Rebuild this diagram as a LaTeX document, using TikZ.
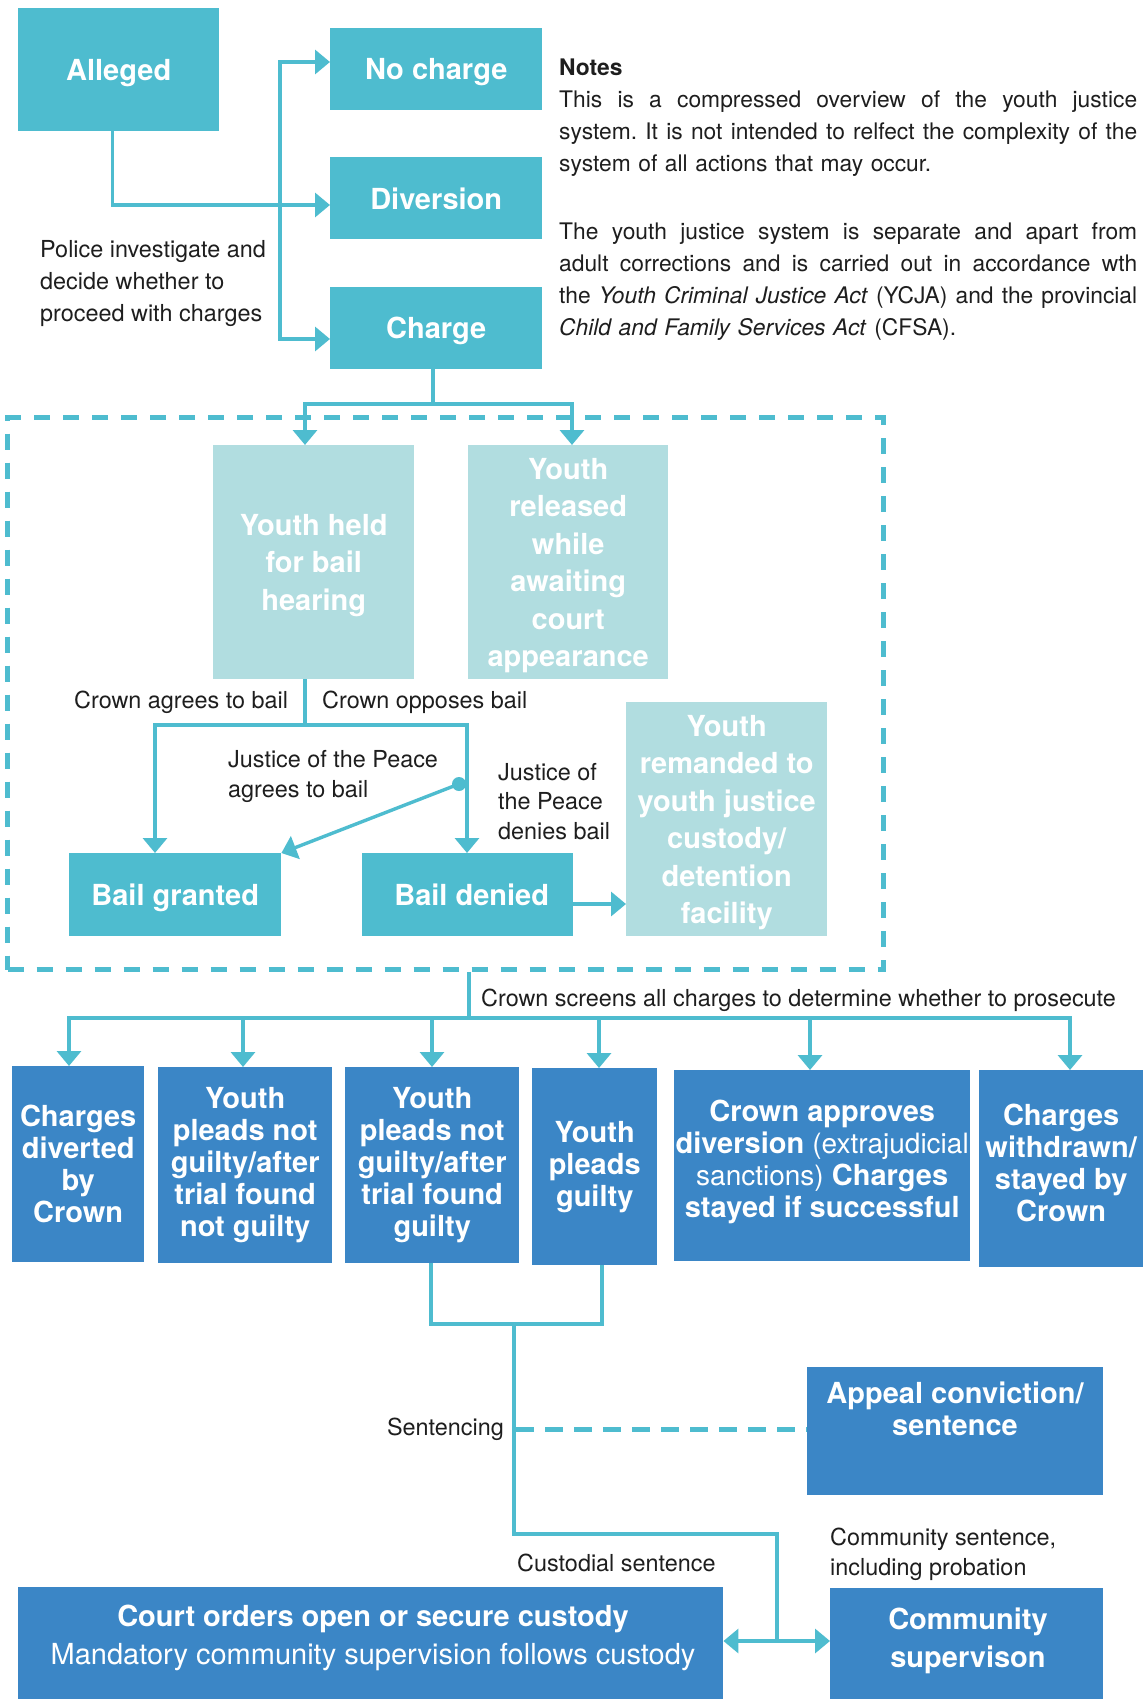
\documentclass[tikz,border=0pt]{standalone}
\usepackage{fontspec}
\setmainfont{TeX Gyre Heros}
\usetikzlibrary{arrows.meta}
\definecolor{jteal}{HTML}{4EBCCF}
\definecolor{jlight}{HTML}{B1DDE0}
\definecolor{jblue}{HTML}{3B86C6}
\definecolor{jline}{HTML}{4EBCCF}
\definecolor{jtext}{HTML}{1E1E1E}
% one justified line of the notes column (stretchable word spaces restored)
\newcommand{\spreadline}[1]{\makebox[578pt][s]{\spaceskip=0pt\xspaceskip=0pt #1}}
\frenchspacing
\begin{document}
\begin{tikzpicture}[x=1pt,y=-1pt,
  flow/.style={draw=jline, line width=3.4pt},
  arr/.style={flow, -{Triangle[length=15pt,width=24pt]}},
  twoarr/.style={flow, {Triangle[length=15pt,width=24pt]}-{Triangle[length=15pt,width=24pt]}},
  zonebox/.style={draw=jline, line width=5pt, dash pattern=on 16pt off 13pt},
  sentdash/.style={draw=jline, line width=5pt, dash pattern=on 18pt off 11pt},
  basebox/.style={inner sep=0pt, text=white, align=center, anchor=north west},
  tealbox/.style={basebox, fill=jteal, text depth=0pt, font=\bfseries\fontsize{29}{33}\selectfont},
  palebox/.style={basebox, fill=jlight, text depth=0pt, font=\bfseries\fontsize{29}{37.5}\selectfont},
  bluebox/.style={basebox, fill=jblue, font=\bfseries\fontsize{29}{32}\selectfont},
  bluetext/.style={inner sep=0pt, text=white, align=center},
  lbl/.style={inner sep=0pt, text=jtext, align=left, font=\fontsize{23.4}{32}\selectfont},
  slbl/.style={lbl, font=\fontsize{23.4}{29.5}\selectfont},
  notestext/.style={lbl, font=\fontsize{22.8}{32}\selectfont},
]
\fill[white] (0,0) rectangle (1143,1699);
\useasboundingbox (0,0) rectangle (1143,1699);

% ---------- police stage ----------
\node[tealbox, minimum width=201pt, minimum height=123pt] (alleged) at (18,8) {Alleged};
\node[tealbox, minimum width=212pt, minimum height=82pt] (nocharge) at (330,28) {No charge};
\node[tealbox, minimum width=212pt, minimum height=82pt] (diversion) at (330,157) {Diversion};
\node[tealbox, minimum width=212pt, minimum height=82pt] (charge) at (330,287) {Charge};

% multi-line labels are anchored on their last baseline
\node[lbl, anchor=base west] (police) at (40,321) {Police investigate and\\decide whether to\\proceed with charges};

\coordinate (ftop) at (280,62);
\coordinate (fmid) at (280,205);
\coordinate (fbot) at (280,339);
\draw[arr] ([xshift=-6.5pt]alleged.south) |- (diversion.west |- fmid);
\draw[flow] (fbot) -- (ftop);
\draw[arr] ([xshift=-1.7pt]ftop) -- (ftop -| nocharge.west);
\draw[arr] ([xshift=-1.7pt]fbot) -- (fbot -| charge.west);

% ---------- notes ----------
\node[notestext, text width=578pt, anchor=base west] (notes) at (559,76) {%
\textbf{Notes}\\
\spreadline{This is a compressed overview of the youth justice}\\
\spreadline{system. It is not intended to relfect the complexity of the}\\
system of all actions that may occur.\\[36pt]
\spreadline{The youth justice system is separate and apart from}\\
\spreadline{adult corrections and is carried out in accordance wth}\\
\spreadline{the \textit{Youth Criminal Justice Act} (YCJA) and the provincial}\\
\textit{Child and Family Services Act} (CFSA).};

% ---------- bail stage ----------
\node[zonebox, anchor=north west, minimum width=876pt, minimum height=552pt, inner sep=0pt] (zone) at (5,415) {};

\node[palebox, minimum width=201pt, minimum height=234pt] (held) at (213,445) {Youth held\\for bail\\hearing};
\node[palebox, minimum width=200pt, minimum height=234pt] (released) at (468,445) {Youth\\released\\while\\awaiting\\court\\appearance};
\node[palebox, minimum width=201pt, minimum height=234pt] (remanded) at (626,702) {Youth\\remanded to\\youth justice\\custody/\\detention\\facility};
\node[tealbox, minimum width=212pt, minimum height=83pt] (granted) at (69,853) {Bail granted};
\node[tealbox, minimum width=211pt, minimum height=83pt] (denied) at (362,853) {\hspace{8pt}Bail denied};

\coordinate (cj) at (433,404);
\coordinate (hl) at (305,404);
\coordinate (hr) at (572,404);
\draw[flow] (charge.south -| cj) -- (cj);
\draw[arr] (hr) -- (hl) -- (hl |- held.north);
\draw[arr] (hl) -- (hr) -- (hr |- released.north);

\coordinate (bj) at (305,725);
\coordinate (bl) at (155,725);
\coordinate (br) at (467,725);
\draw[flow] (held.south -| bj) -- (bj);
\draw[arr] (bj) -- (bl) -- (bl |- granted.north);
\draw[arr] (bj) -- (br) -- (br |- denied.north);
\node[circle, fill=jline, minimum size=14pt, inner sep=0pt] (jp) at (459,784) {};
\draw[arr] (jp.center) -- (granted.north east);
\coordinate (dr) at (600,904);
\draw[arr] (denied.east |- dr) -- (remanded.west |- dr);

\node[lbl, anchor=base west] (cagree) at (74,708) {Crown agrees to bail};
\node[lbl, anchor=base west] (coppose) at (322,708) {Crown opposes bail};
\node[slbl, anchor=base west] (jpagree) at (228,797) {Justice of the Peace\\agrees to bail};
\node[slbl, anchor=base west] (jpdeny) at (498,839) {Justice of\\the Peace\\denies bail};

% ---------- prosecution decision ----------
\node[bluebox, minimum width=132pt, minimum height=196pt] (c1) at (12,1066) {Charges\\diverted\\by\\Crown};
\node[bluebox, minimum width=174pt, minimum height=196pt] (c2) at (158,1067) {Youth\\pleads not\\guilty/after\\trial found\\not guilty};
\node[bluebox, minimum width=174pt, minimum height=196pt] (c3) at (345,1067) {Youth\\pleads not\\guilty/after\\trial found\\guilty};
\node[bluebox, minimum width=125pt, minimum height=197pt] (c4) at (532,1068) {Youth\\pleads\\guilty};
\node[bluebox, minimum width=296pt, minimum height=191pt, text depth=14pt] (c5) at (674,1070) {Crown approves\\diversion {\mdseries\fontsize{28}{32}\selectfont(extrajudicial}\\{\mdseries\fontsize{28}{32}\selectfont sanctions)} Charges\\stayed if successful};
\node[bluebox, minimum width=164pt, minimum height=197pt, text depth=12pt] (c6) at (979,1070) {Charges\\withdrawn/\\stayed by\\Crown};

\coordinate (sj) at (469,1018);
\coordinate (s1) at (69,1018);
\coordinate (s2) at (243,1018);
\coordinate (s3) at (432,1018);
\coordinate (s4) at (599,1018);
\coordinate (s5) at (810,1018);
\coordinate (s6) at (1070,1018);
\draw[flow] (zone.south -| sj) -- (sj);
\draw[arr] (s6) -- (s1) -- (s1 |- c1.north);
\draw[arr] (s1) -- (s6) -- (s6 |- c6.north);
\draw[arr] (s2) -- (s2 |- c2.north);
\draw[arr] (s3) -- (s3 |- c3.north);
\draw[arr] (s4) -- (s4 |- c4.north);
\draw[arr] (s5) -- (s5 |- c5.north);
\node[lbl, anchor=base west] (screen) at (481,1006) {Crown screens all charges to determine whether to prosecute};

% ---------- sentencing ----------
\node[basebox, fill=jblue, minimum width=296pt, minimum height=128pt] (appeal) at (807,1367) {};
\node[bluetext, font=\bfseries\fontsize{29}{32}\selectfont] (appealtxt) at (955,1409) {Appeal conviction/\\sentence};
\node[basebox, fill=jblue, minimum width=705pt, minimum height=115pt] (court) at (18,1587) {};
\node[bluetext, font=\fontsize{29}{38}\selectfont] (courttxt) at (373,1638) {\textbf{Court orders open or secure custody}\\Mandatory community supervision follows custody};
\node[basebox, fill=jblue, minimum width=273pt, minimum height=114pt] (community) at (830,1588) {};
\node[bluetext, font=\bfseries\fontsize{29}{38}\selectfont] (commtxt) at (968,1641) {Community\\supervison};

\coordinate (g1) at (431,1324);
\coordinate (g2) at (602,1324);
\coordinate (gm) at (514,1324);
\coordinate (sm) at (514,1429);
\coordinate (sk) at (514,1534);
\coordinate (sr) at (777,1534);
\coordinate (sd) at (777,1641);
\draw[flow] (g1 |- c3.south) -- (g1) -- (g2) -- (g2 |- c4.south);
\draw[flow] (gm) -- (sk) -- (sr) -- (sd);
\draw[twoarr] (court.east |- sd) -- (community.west |- sd);
\draw[sentdash] ([xshift=2pt]sm) -- (sm -| appeal.west);

\node[lbl, anchor=base east] (sentencing) at (504,1435) {Sentencing};
\node[lbl, anchor=base west] (custodial) at (517,1571) {Custodial sentence};
\node[slbl, anchor=base west] (commsent) at (830,1575) {Community sentence,\\including probation};
\end{tikzpicture}
\end{document}
